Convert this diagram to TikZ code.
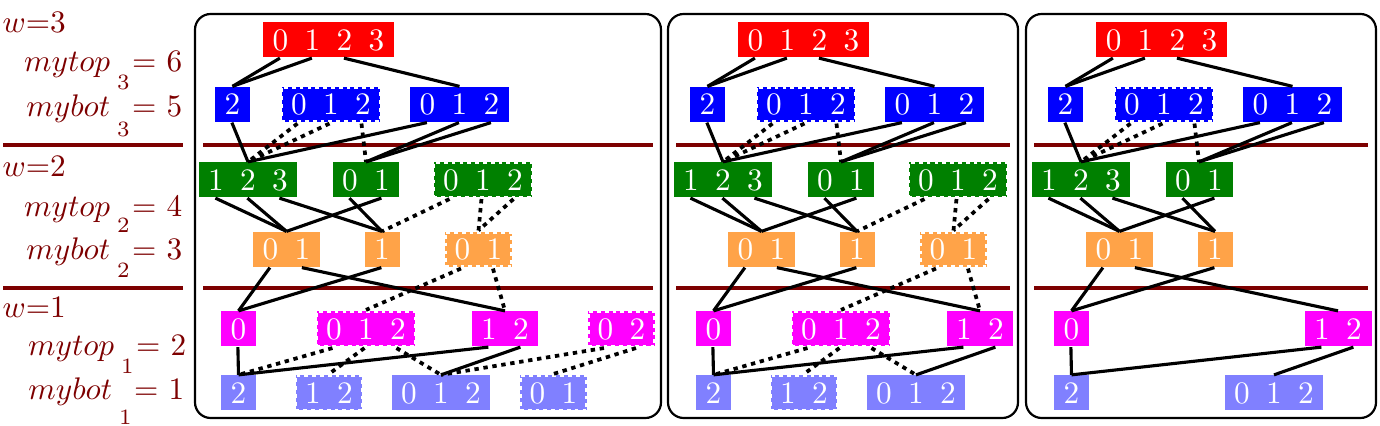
\documentclass[tikz,border=0pt]{standalone}
\usepackage{xcolor}
\usepackage{tikz}
\usetikzlibrary{calc}
\definecolor{lvl}{RGB}{125,0,0}
\definecolor{vred}{RGB}{255,0,0}
\definecolor{vblue}{RGB}{0,0,255}
\definecolor{vgreen}{RGB}{0,128,0}
\definecolor{vorange}{RGB}{255,163,72}
\definecolor{vmag}{RGB}{255,0,255}
\definecolor{vlight}{RGB}{128,128,255}
% edge from the #3-th value of node #2 to node #4
\newcommand{\edg}[4][lnk]{\draw[#1] ($(#2.south west)+({17.5+32*#3},0)$) -- (#4.north);}
\newcommand{\lowsub}[2][-5.6pt]{\hspace{2.2pt}\raisebox{#1}{$\scriptstyle #2$}\hspace{0.8pt}}

\begin{document}
\begin{tikzpicture}[
    x=0.32pt, y=-0.32pt,
    val/.style={rectangle, fill=#1, text=white, minimum height=11.2pt, inner xsep=3.1pt, inner ysep=0pt, text height=6.44pt, text depth=0pt, execute at begin node={\spaceskip=5.23pt\relax}},
    gone/.style={val=#1, draw=white, dash pattern=on 1.2pt off 1.3pt, line width=1pt},
    lnk/.style={line width=1pt},
    dlnk/.style={line width=1.2pt, dash pattern=on 1.4pt off 1.5pt},
    sep/.style={draw=lvl, line width=1pt},
    lbl/.style={text=lvl, inner sep=0pt},
]
\useasboundingbox (0,0) rectangle (1380,426);

% level labels
\node[lbl, anchor=base west] (lw3) at (2,33) {$w$=3};
\node[lbl, anchor=base east] (ltop3) at (183,72) {$mytop$\lowsub{3}= 6};
\node[lbl, anchor=base east] (lbot3) at (183,117) {$mybot$\lowsub[-6.4pt]{3}= 5};
\draw[sep] (3,145) -- (183,145);
\node[lbl, anchor=base west] (lw2) at (2,177) {$w$=2};
\node[lbl, anchor=base east] (ltop2) at (183,217) {$mytop$\lowsub[-5.1pt]{2}= 4};
\node[lbl, anchor=base east] (lbot2) at (183,260) {$mybot$\lowsub{2}= 3};
\draw[sep] (3,288) -- (183,288);
\node[lbl, anchor=base west] (lw1) at (2,318) {$w$=1};
\node[lbl, anchor=base east] (ltop1) at (187,356) {$mytop$\lowsub{1}= 2};
\node[lbl, anchor=base east] (lbot1) at (185,400) {$mybot$\lowsub[-8pt]{1}= 1};

\foreach \p/\dx/\bl/\br in {a/0/195/661, b/475/668/1018, c/833/1026/1376} {
  \draw[line width=0.7pt, rounded corners=5pt] (\bl,14) rectangle (\br,418);
  \draw[sep] (\bl+8,145) -- (\br-8,145);
  \draw[sep] (\bl+8,288) -- (\br-8,288);
  % nodes kept in every panel
  \node[val=vred] (\p R) at (\dx+328.5,40) {0 1 2 3};
  \node[val=vblue] (\p B1) at (\dx+232.5,104.5) {2};
  \node[gone=vblue] (\p B2) at (\dx+331,104.5) {0 1 2};
  \node[val=vblue] (\p B3) at (\dx+459.5,104.5) {0 1 2};
  \node[val=vgreen] (\p G1) at (\dx+248,180) {1 2 3};
  \node[val=vgreen] (\p G2) at (\dx+366,180) {0 1};
  \node[val=vorange] (\p O1) at (\dx+286.5,249.5) {0 1};
  \node[val=vorange] (\p O2) at (\dx+382,249.5) {1};
  \node[val=vmag] (\p M1) at (\dx+238.5,329) {0};
  \node[val=vmag] (\p M3) at (\dx+505,329) {1 2};
  \node[val=vlight] (\p L1) at (\dx+238.5,393) {2};
  \node[val=vlight] (\p L3) at (\dx+441,393) {0 1 2};
  \edg{\p R}{0}{\p B1} \edg{\p R}{1}{\p B1} \edg{\p R}{2}{\p B3}
  \edg{\p B1}{0}{\p G1}
  \edg[dlnk]{\p B2}{0}{\p G1} \edg[dlnk]{\p B2}{1}{\p G1} \edg[dlnk]{\p B2}{2}{\p G2}
  \edg{\p B3}{0}{\p G1} \edg{\p B3}{1}{\p G2} \edg{\p B3}{2}{\p G2}
  \edg{\p G1}{0}{\p O1} \edg{\p G1}{1}{\p O1} \edg{\p G1}{2}{\p O2}
  \edg{\p G2}{0}{\p O2} \edg{\p G2}{1}{\p O1}
  \edg{\p O1}{0}{\p M1} \edg{\p O1}{1}{\p M3}
  \edg{\p O2}{0}{\p M1}
  \edg{\p M1}{0}{\p L1}
  \edg{\p M3}{0}{\p L1} \edg{\p M3}{1}{\p L3}
  % removed in the last panel
  \ifnum\dx<800
    \node[gone=vgreen] (\p G3) at (\dx+483,180) {0 1 2};
    \node[gone=vorange] (\p O3) at (\dx+478.5,249.5) {0 1};
    \node[gone=vmag] (\p M2) at (\dx+366,329) {0 1 2};
    \node[gone=vlight] (\p L2) at (\dx+329,393) {1 2};
    \edg[dlnk]{\p G3}{0}{\p O2} \edg[dlnk]{\p G3}{1}{\p O3} \edg[dlnk]{\p G3}{2}{\p O3}
    \edg[dlnk]{\p O3}{0}{\p M2} \edg[dlnk]{\p O3}{1}{\p M3}
    \edg[dlnk]{\p M2}{0}{\p L1} \edg[dlnk]{\p M2}{1}{\p L2} \edg[dlnk]{\p M2}{2}{\p L3}
  \fi
  % only in the first panel
  \ifnum\dx=0
    \node[gone=vmag] (\p M4) at (\dx+621.5,329) {0 2};
    \node[gone=vlight] (\p L4) at (\dx+553.5,393) {0 1};
    \edg[dlnk]{\p M4}{0}{\p L3} \edg[dlnk]{\p M4}{1}{\p L4}
  \fi
}
\end{tikzpicture}
\end{document}
